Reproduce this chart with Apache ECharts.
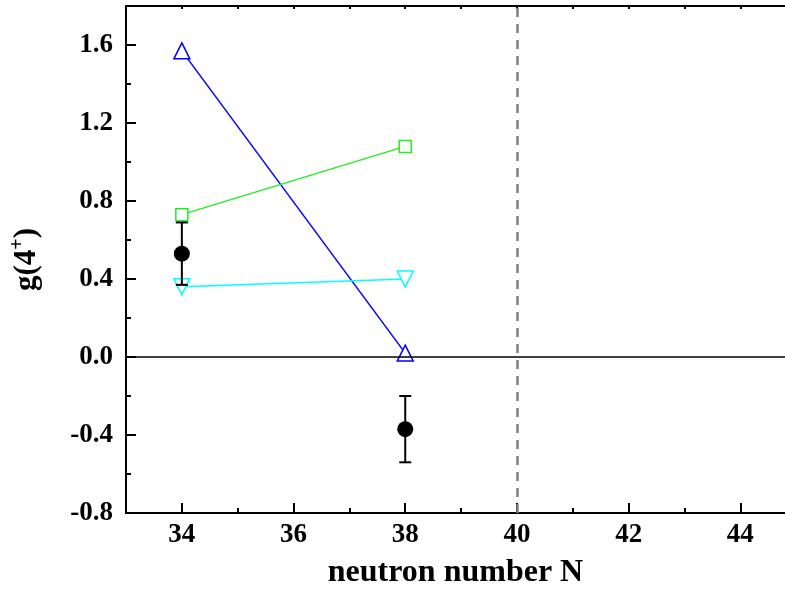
<!DOCTYPE html>
<html>
<head>
<meta charset="utf-8">
<script src="https://cdn.jsdelivr.net/npm/echarts@6/dist/echarts.min.js"></script>
<style>
  html, body { margin: 0; padding: 0; background: #fff; }
  #chart { width: 785px; height: 598px; }
</style>
</head>
<body>
<div id="chart"></div>
<script>
// neutron numbers
const neutronN = [34, 38];

// measured g(4+) with errors
const expG = [0.53, -0.37];
const expErr = [0.16, 0.17];

// calculations
const calcBlue = [1.57, 0.02];   // open up-triangles
const calcGreen = [0.73, 1.08];  // open squares
const calcCyan = [0.36, 0.40];   // open down-triangles

// axis ticks
const xMajor = [34, 36, 38, 40, 42, 44];
const xMinor = [33, 35, 37, 39, 41, 43];
const xTop = [34, 35, 36, 37, 38, 39, 40, 41, 42, 43, 44];
const yMajor = [-0.8, -0.4, 0.0, 0.4, 0.8, 1.2, 1.6];
const yMinor = [-0.6, -0.2, 0.2, 0.6, 1.0, 1.4];
const shellGap = 40;

const font = 'Liberation Serif';
const chart = echarts.init(document.getElementById('chart'));

const pairs = (ys) => neutronN.map((n, i) => [n, ys[i]]);

const baseX = {
    type: 'value', min: 33, max: 44.8, splitLine: {show: false},
    axisLine: {show: false, onZero: false}, axisLabel: {show: false}, axisTick: {show: false}
};
const baseY = {
    type: 'value', min: -0.8, max: 1.8, splitLine: {show: false},
    axisLine: {show: false, onZero: false}, axisLabel: {show: false}, axisTick: {show: false}
};
// an axis that only draws ticks
const tickOnly = (base, position, values, len) => Object.assign({}, base, {
    position: position,
    axisTick: {show: true, inside: true, length: len, customValues: values,
        lineStyle: {color: '#000', width: 2}}
});
const axisLine = {show: true, onZero: false, lineStyle: {color: '#000', width: 2}};
const tickFont = {fontFamily: font, fontWeight: 'bold', fontSize: 27, color: '#000'};

const option = {
    animation: false,
    grid: {left: 126, right: 0, top: 6, bottom: 85},
    xAxis: [
        Object.assign({}, baseX, {
            position: 'bottom',
            axisLine: axisLine,
            axisLabel: Object.assign({show: true, customValues: xMajor, margin: 9}, tickFont),
            name: 'neutron number N', nameLocation: 'middle', nameGap: 44,
            nameTextStyle: {fontFamily: font, fontWeight: 'bold', fontSize: 32, color: '#000'}
        }),
        tickOnly(baseX, 'bottom', xMajor, 10),
        tickOnly(baseX, 'bottom', xMinor, 5),
        Object.assign(tickOnly(baseX, 'top', xTop, 3), {axisLine: axisLine})
    ],
    yAxis: [
        Object.assign({}, baseY, {
            position: 'left',
            axisLine: axisLine,
            axisLabel: Object.assign({show: true, customValues: yMajor, margin: 13,
                formatter: v => v.toFixed(1)}, tickFont),
            name: '{a|g(4}{s|+}{a|)}', nameLocation: 'middle', nameGap: 80, nameRotate: 90,
            nameTextStyle: {
                rich: {
                    a: {fontFamily: font, fontWeight: 'bold', fontSize: 31, color: '#000'},
                    s: {fontFamily: font, fontWeight: 'bold', fontSize: 20, color: '#000',
                        verticalAlign: 'top', padding: [0, 0, 18, 0]}
                }
            }
        }),
        tickOnly(baseY, 'left', yMajor, 10),
        tickOnly(baseY, 'left', yMinor, 5)
    ],
    series: [
        {
            type: 'line', data: pairs(calcBlue), symbol: 'triangle', symbolSize: 16,
            lineStyle: {color: '#0000ff', width: 1.5},
            itemStyle: {color: '#fff', borderColor: '#0000ff', borderWidth: 1.5},
            markLine: {
                silent: true, symbol: 'none', label: {show: false},
                data: [
                    {yAxis: 0, lineStyle: {color: '#000', width: 1.5, type: 'solid'}},
                    {xAxis: shellGap, lineStyle: {color: '#808080', width: 2.5, type: [9, 7]}}
                ]
            },
            z: 3
        },
        {
            type: 'line', data: pairs(calcGreen), symbol: 'rect', symbolSize: 12,
            lineStyle: {color: '#22ee22', width: 1.5},
            itemStyle: {color: '#fff', borderColor: '#22ee22', borderWidth: 1.5},
            z: 3
        },
        {
            type: 'line', data: pairs(calcCyan), symbol: 'triangle', symbolRotate: 180,
            symbolSize: 16,
            lineStyle: {color: '#00ffff', width: 1.5},
            itemStyle: {color: '#fff', borderColor: '#00ffff', borderWidth: 1.5},
            z: 3
        },
        {
            type: 'custom',
            data: neutronN.map((n, i) => [n, expG[i] - expErr[i], expG[i] + expErr[i]]),
            renderItem: (params, api) => {
                const lo = api.coord([api.value(0), api.value(1)]);
                const hi = api.coord([api.value(0), api.value(2)]);
                const w = 6;
                const style = {stroke: '#000', lineWidth: 2};
                return {
                    type: 'group',
                    children: [
                        {type: 'line', shape: {x1: lo[0], y1: lo[1], x2: hi[0], y2: hi[1]}, style},
                        {type: 'line', shape: {x1: lo[0] - w, y1: lo[1], x2: lo[0] + w, y2: lo[1]}, style},
                        {type: 'line', shape: {x1: hi[0] - w, y1: hi[1], x2: hi[0] + w, y2: hi[1]}, style}
                    ]
                };
            },
            z: 4
        },
        {
            type: 'scatter', data: pairs(expG), symbol: 'circle', symbolSize: 16,
            itemStyle: {color: '#000', opacity: 1}, z: 5
        }
    ]
};

chart.setOption(option);
</script>
</body>
</html>
